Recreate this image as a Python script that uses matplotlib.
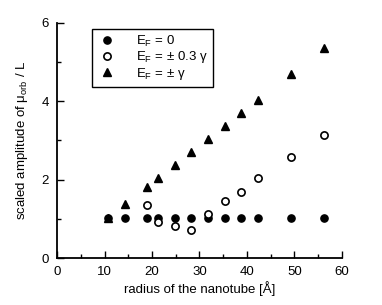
import matplotlib
matplotlib.use("Agg")
import matplotlib.pyplot as plt
from matplotlib.ticker import MultipleLocator

plt.rcParams['font.family'] = ['Liberation Sans', 'DejaVu Sans']
plt.rcParams['mathtext.fontset'] = 'custom'
plt.rcParams['mathtext.rm'] = 'Liberation Sans'

radius = [10.8, 14.2, 18.9, 21.2, 24.8, 28.3, 31.8, 35.3, 38.8, 42.3, 49.2, 56.3]
ef0 = [1.02, 1.02, 1.02, 1.02, 1.02, 1.02, 1.02, 1.02, 1.02, 1.02, 1.03, 1.03]
radius_03 = [18.9, 21.2, 24.8, 28.3, 31.8, 35.3, 38.8, 42.3, 49.2, 56.3]
ef03 = [1.35, 0.92, 0.82, 0.72, 1.13, 1.45, 1.68, 2.04, 2.59, 3.14]
radius_1 = [10.8, 14.2, 18.9, 21.2, 24.8, 28.3, 31.8, 35.3, 38.8, 42.3, 49.2, 56.3]
ef1 = [1.02, 1.37, 1.81, 2.03, 2.38, 2.70, 3.04, 3.37, 3.70, 4.03, 4.70, 5.36]

fig = plt.figure(figsize=(3.82, 3.05), dpi=100)
ax = fig.add_axes([0.150, 0.154, 0.7445, 0.771])

ax.plot(radius, ef0, 'o', color='black', markersize=5.2, linestyle='none',
        label=r'E$_\mathregular{F}$ = 0', zorder=3)
ax.plot(radius_03, ef03, 'o', markerfacecolor='white', markeredgecolor='black',
        markeredgewidth=1.2, markersize=5.2, linestyle='none',
        label=r'E$_\mathregular{F}$ = ± 0.3 γ', zorder=4)
ax.plot(radius_1, ef1, '^', color='black', markersize=6, linestyle='none',
        label=r'E$_\mathregular{F}$ = ± γ', zorder=2)

ax.set_xlim(0, 60)
ax.set_ylim(0, 6)
ax.xaxis.set_major_locator(MultipleLocator(10))
ax.xaxis.set_minor_locator(MultipleLocator(5))
ax.yaxis.set_major_locator(MultipleLocator(2))
ax.yaxis.set_minor_locator(MultipleLocator(1))
ax.tick_params(which='both', direction='in', labelsize=9.5, width=1)
ax.tick_params(which='major', length=5, pad=6)
ax.tick_params(which='minor', length=3)
for s in ['top', 'right']:
    ax.spines[s].set_visible(False)
for s in ['left', 'bottom']:
    ax.spines[s].set_linewidth(1.3)

ax.set_xlabel('radius of the nanotube [Å]', fontsize=9.5, labelpad=2)
ax.set_ylabel(r'scaled amplitude of μ$_\mathregular{orb}$ / L', fontsize=9.5, labelpad=8)

leg = ax.legend(loc='upper left', bbox_to_anchor=(0.122, 0.974), fontsize=9.5,
                frameon=True, fancybox=False, edgecolor='black', framealpha=1,
                borderaxespad=0, handletextpad=1.4, borderpad=0.35,
                labelspacing=0.05, handlelength=1.6)
leg.get_frame().set_linewidth(1.0)

fig.savefig('out.png', dpi=100)
